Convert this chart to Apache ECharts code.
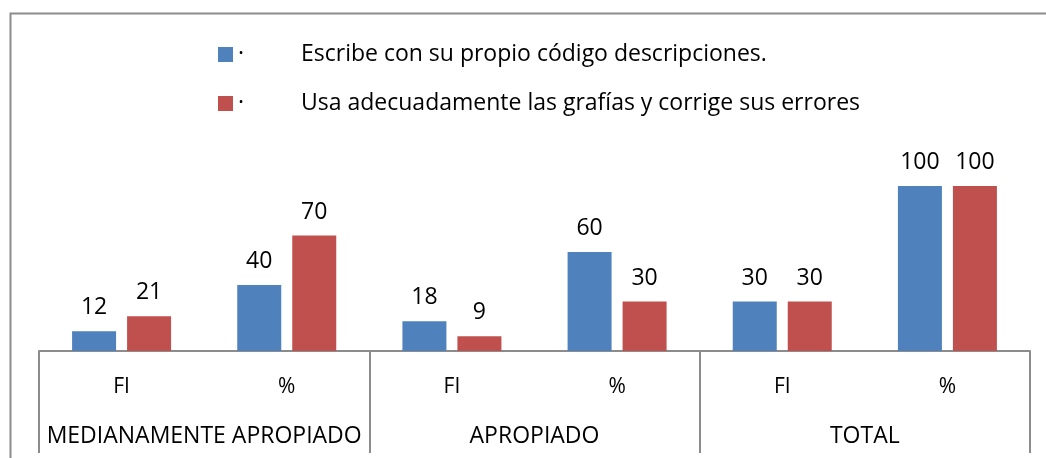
<!DOCTYPE html>
<html>
<head>
<meta charset="utf-8">
<script src="https://cdn.jsdelivr.net/npm/echarts@6/dist/echarts.min.js"></script>
<style>
  html, body { margin: 0; padding: 0; background: #fff; }
  #chart { width: 1046px; height: 458px; }
</style>
</head>
<body>
<div id="chart"></div>
<script>
// data
const categories = ['FI', '%', 'FI', '%', 'FI', '%']
const groups = ['MEDIANAMENTE APROPIADO', 'APROPIADO', 'TOTAL']
const seriesNames = [
  'Escribe con su propio código descripciones.',
  'Usa adecuadamente las grafías y corrige sus errores'
]
const escribe = [12, 40, 18, 60, 30, 100]
const usa = [21, 70, 9, 30, 30, 100]

const font = 'Open Sans'
const fs = 23      // legend, values, group names
const fsSmall = 21 // FI / % row
const chart = echarts.init(document.getElementById('chart'))

const barLabel = {
  show: true,
  position: 'top',
  distance: 12,
  color: '#000',
  fontSize: fs,
  fontFamily: font
}

const option = {
  animation: false,
  textStyle: { fontFamily: font },
  graphic: [{
    type: 'rect',
    shape: { x: 10.5, y: 13.5, width: 1100, height: 500 },
    style: { fill: 'none', stroke: '#8c8c8c', lineWidth: 2 },
    silent: true
  }],
  legend: {
    orient: 'vertical',
    left: 213,
    top: 38,
    itemWidth: 15,
    itemHeight: 15,
    itemGap: 26,
    icon: 'rect',
    formatter: name => '{d|·}{t|' + name + '}',
    textStyle: {
      rich: {
        d: { width: 63, align: 'left', fontSize: fs, color: '#000', fontFamily: font },
        t: { fontSize: fs, color: '#000', fontFamily: font }
      }
    },
    data: seriesNames
  },
  grid: { left: 39, right: 16, top: 186, bottom: 107 },
  xAxis: [
    {
      type: 'category',
      data: categories,
      axisLine: { show: true, lineStyle: { color: '#8c8c8c', width: 2 } },
      axisTick: { show: false },
      axisLabel: { color: '#000', fontSize: fsSmall, fontFamily: font, margin: 26, interval: 0 }
    },
    {
      type: 'category',
      data: groups,
      position: 'bottom',
      axisLine: { show: false },
      axisTick: { show: true, interval: 0, length: 102, lineStyle: { color: '#8c8c8c', width: 2 } },
      axisLabel: { color: '#000', fontSize: fs, fontFamily: font, margin: 74, interval: 0 }
    }
  ],
  yAxis: {
    type: 'value',
    min: 0,
    max: 100,
    show: false
  },
  series: [
    {
      name: seriesNames[0],
      type: 'bar',
      data: escribe,
      barWidth: 44,
      barGap: '25%',
      itemStyle: { color: '#4f81bd' },
      label: barLabel
    },
    {
      name: seriesNames[1],
      type: 'bar',
      data: usa,
      barWidth: 44,
      barGap: '25%',
      itemStyle: { color: '#c0504d' },
      label: barLabel
    }
  ]
}
chart.setOption(option)
window.addEventListener('resize', () => { chart.resize() })
</script>
</body>
</html>
